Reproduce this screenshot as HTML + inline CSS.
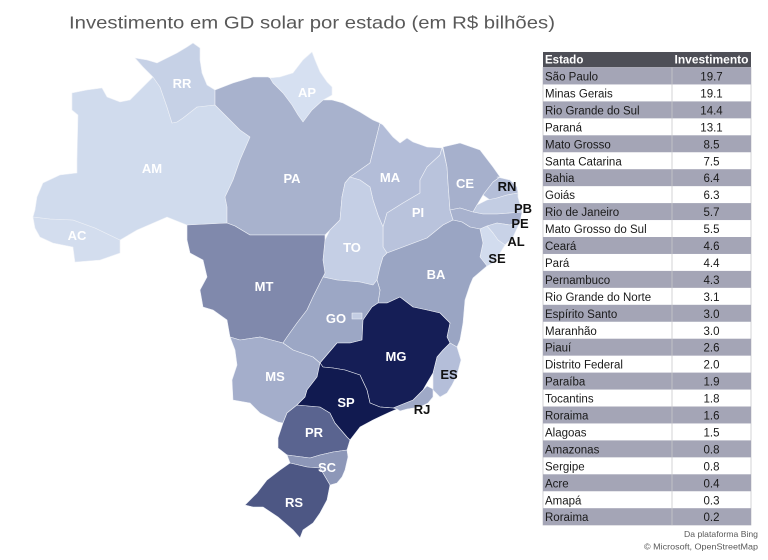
<!DOCTYPE html>
<html><head><meta charset="utf-8"><style>
html,body{margin:0;padding:0;background:#fff;}
svg{display:block;}
.lb{font-family:"Liberation Sans",Arial,sans-serif;font-weight:bold;font-size:13px;text-anchor:middle;fill:#fff;}
.lk{fill:#111;}
.tx{font-family:"Liberation Sans",Arial,sans-serif;font-size:11.5px;fill:#1a1a1a;}
.vl{text-anchor:middle;}
</style></head><body>
<svg width="768" height="560" viewBox="0 0 768 560" xmlns="http://www.w3.org/2000/svg">
<rect x="0" y="0" width="768" height="560" fill="#fff"/>
<text x="69" y="28.5" font-family="Liberation Sans, Arial, sans-serif" font-size="17.5" fill="#595959" textLength="486" lengthAdjust="spacingAndGlyphs">Investimento em GD solar por estado (em R$ bilhões)</text>

<g stroke="#eef1f7" stroke-width="0.6" stroke-linejoin="round">
<!-- AC -->
<polygon fill="#d3ddee" points="33,217 50,219 73,220 95,228 120,240 120,253 100,260 75,262 73,247 53,243 40,237 35,228"/>
<!-- AM -->
<polygon fill="#d0dbed" points="72,93 87,90 102,88 107,97 120,102 130,100 143,87 153,77 160,87 167,107 172,123 177,122 183,118 197,107 215,105 217,107 227,117 240,130 250,137 240,160 233,180 225,197 227,207 227,223 187,225 167,217 137,230 120,240 95,228 73,220 50,219 33,217 35,210 37,197 43,183 60,175 77,173 77,160 78,115 72,110"/>
<!-- RR -->
<polygon fill="#c6d1e6" points="135,58 147,60 157,63 167,58 177,53 187,47 193,43 200,48 200,60 202,73 207,85 215,90 215,105 197,107 183,118 177,122 172,123 167,107 160,87 153,77 143,67"/>
<!-- AP -->
<polygon fill="#d6e0f1" points="270,78 280,77 293,73 303,60 312,52 315,60 320,72 327,82 332,87 332,95 323,100 312,110 303,122 298,115 292,105 283,93 273,83"/>
<!-- PA -->
<polygon fill="#a8b2cd" points="215,90 233,83 253,77 268,77 270,78 273,83 283,93 292,105 298,115 303,122 312,110 323,100 332,100 343,103 360,112 373,120 380,123 375,143 370,163 350,177 345,183 342,197 340,220 330,230 325,235 250,235 235,226 227,223 227,207 225,197 233,180 240,160 250,137 240,130 227,117 217,107 215,105"/>
<!-- MA -->
<polygon fill="#b3bdd8" points="380,123 383,125 393,137 400,143 407,138 413,142 427,147 442,148 440,155 427,167 420,180 420,193 403,203 387,213 383,227 378,215 373,200 370,187 360,180 350,177 370,163 375,143"/>
<!-- PI -->
<polygon fill="#b9c3dc" points="442,148 443,150 447,167 448,183 450,210 453,220 443,225 427,238 403,247 387,253 383,247 383,227 387,213 403,203 420,193 420,180 427,167 440,155"/>
<!-- CE -->
<polygon fill="#a6b0cc" points="443,147 460,143 480,150 493,167 500,177 493,182 483,195 477,205 473,212 460,208 450,210 448,183 447,167"/>
<!-- RN -->
<polygon fill="#b4bed8" points="497,177 510,180 517,187 518,193 507,195 497,198 490,200 483,195 493,182 500,177"/>
<!-- PB -->
<polygon fill="#c3cde3" points="477,205 487,200 497,198 507,195 518,193 518,197 522,212 510,213 497,214 483,214 473,212"/>
<!-- PE -->
<polygon fill="#a8b2ce" points="450,210 460,208 473,212 483,214 497,214 510,213 522,212 520,222 510,225 497,223 487,226 480,229 470,227 462,222 453,220"/>
<!-- AL -->
<polygon fill="#c8d2e7" points="487,226 497,223 510,225 520,222 513,237 505,245 498,240 493,233"/>
<!-- SE -->
<polygon fill="#d2dcee" points="480,229 487,226 493,233 498,240 505,245 500,253 493,263 487,266 480,257 483,243"/>
<!-- TO -->
<polygon fill="#c5cfe5" points="350,177 360,180 370,187 373,200 378,215 383,227 383,247 387,253 383,257 380,267 377,280 373,285 360,282 337,280 323,277 325,273 323,260 325,240 330,230 340,220 342,197 345,183"/>
<!-- BA -->
<polygon fill="#9aa5c3" points="387,253 403,247 427,238 443,225 453,220 462,222 470,227 480,229 483,243 480,257 487,266 480,272 473,278 470,285 465,300 463,323 460,340 457,347 450,343 447,337 450,323 440,313 427,310 413,307 400,297 387,303 378,303 380,290 377,280 380,267 383,257"/>
<!-- MT -->
<polygon fill="#8089ac" points="187,225 227,223 235,226 250,235 325,235 325,240 323,260 325,273 323,277 313,297 307,310 297,323 287,337 283,343 260,337 240,340 230,337 227,320 213,310 203,307 200,290 207,277 203,260 190,253 187,240"/>
<!-- GO -->
<polygon fill="#9ca7c5" points="323,277 337,280 360,282 373,285 377,280 380,290 378,303 372,307 363,320 362,340 350,343 337,343 320,363 313,357 293,350 283,343 287,337 297,323 307,310 313,297"/>
<!-- DF -->
<polygon fill="#c3cde3" points="352,313 362,313 362,319 352,319"/>
<!-- MS -->
<polygon fill="#a4aecb" points="230,337 240,340 260,337 283,343 293,350 313,357 320,363 323,367 317,377 307,390 305,397 297,405 287,413 283,423 278,422 260,413 250,403 233,400 232,380 237,365 235,350"/>
<!-- PR -->
<polygon fill="#5a6490" points="297,405 320,407 330,413 335,423 347,437 350,440 347,450 333,452 320,455 310,458 287,455 278,448 278,438 283,423 287,413"/>
<!-- SC -->
<polygon fill="#8d97b8" points="287,455 310,458 320,455 333,452 347,450 348,457 345,470 342,477 337,483 330,485 320,468 307,467 290,463"/>
<!-- RS -->
<polygon fill="#4d5784" points="290,463 307,467 320,468 330,485 327,500 320,513 313,523 303,530 300,538 293,530 278,517 263,507 253,507 245,505 257,493 267,480 280,470"/>
<!-- RJ -->
<polygon fill="#9fa9c7" points="393,408 413,400 423,390 427,386 433,389 433,397 428,403 420,407 407,409 400,411 397,409"/>
<!-- ES -->
<polygon fill="#b4bed9" points="443,350 450,343 457,347 461,360 457,375 452,385 447,393 440,397 433,390 433,373 437,357"/>
<!-- MG -->
<polygon fill="#151e56" points="372,307 378,303 387,303 400,297 413,307 427,310 440,313 450,323 447,337 450,343 443,350 437,357 433,373 427,383 423,390 413,400 393,408 380,407 370,403 367,390 360,375 345,370 333,368 323,367 320,363 337,343 350,343 362,340 363,320"/>
<!-- SP -->
<polygon fill="#111a50" points="320,363 323,367 333,368 345,370 360,375 367,390 370,403 380,407 393,408 397,409 390,412 373,420 360,427 350,440 347,437 335,423 330,413 320,407 297,405 305,397 307,390 317,377"/>
</g>

<g>
<text class="lb" x="182" y="88">RR</text>
<text class="lb" x="152" y="173">AM</text>
<text class="lb" x="77" y="240">AC</text>
<text class="lb" x="307" y="97">AP</text>
<text class="lb" x="292" y="183">PA</text>
<text class="lb" x="390" y="182">MA</text>
<text class="lb" x="465" y="188">CE</text>
<text class="lb" x="418" y="217">PI</text>
<text class="lb" x="352" y="252">TO</text>
<text class="lb" x="436" y="279">BA</text>
<text class="lb" x="264" y="291">MT</text>
<text class="lb" x="336" y="323">GO</text>
<text class="lb" x="396" y="361">MG</text>
<text class="lb" x="275" y="381">MS</text>
<text class="lb" x="346" y="407">SP</text>
<text class="lb" x="314" y="437">PR</text>
<text class="lb" x="327" y="472">SC</text>
<text class="lb" x="294" y="507">RS</text>
<text class="lb lk" x="507" y="191">RN</text>
<text class="lb lk" x="523" y="213">PB</text>
<text class="lb lk" x="520" y="228">PE</text>
<text class="lb lk" x="516" y="246">AL</text>
<text class="lb lk" x="497" y="263">SE</text>
<text class="lb lk" x="449" y="379">ES</text>
<text class="lb lk" x="422" y="414">RJ</text>
</g>

<!-- Table -->
<g>
<rect x="543" y="52" width="208" height="15.5" fill="#4e4f57"/>
<text x="545" y="63.5" font-family="Liberation Sans, Arial, sans-serif" font-size="11.5" font-weight="bold" fill="#fff">Estado</text>
<text x="711.5" y="63.5" font-family="Liberation Sans, Arial, sans-serif" font-size="11.5" font-weight="bold" fill="#fff" text-anchor="middle" textLength="74" lengthAdjust="spacingAndGlyphs">Investimento</text>

<g id="rows">
<rect x="543" y="67.5" width="208" height="457.5" fill="#fff" stroke="#c8c8cc" stroke-width="0.8"/>
<rect x="543" y="67.50" width="208" height="16.95" fill="#a4a5b6"/>
<rect x="543" y="101.40" width="208" height="16.95" fill="#a4a5b6"/>
<rect x="543" y="135.30" width="208" height="16.95" fill="#a4a5b6"/>
<rect x="543" y="169.20" width="208" height="16.95" fill="#a4a5b6"/>
<rect x="543" y="203.10" width="208" height="16.95" fill="#a4a5b6"/>
<rect x="543" y="237.00" width="208" height="16.95" fill="#a4a5b6"/>
<rect x="543" y="270.90" width="208" height="16.95" fill="#a4a5b6"/>
<rect x="543" y="304.80" width="208" height="16.95" fill="#a4a5b6"/>
<rect x="543" y="338.70" width="208" height="16.95" fill="#a4a5b6"/>
<rect x="543" y="372.60" width="208" height="16.95" fill="#a4a5b6"/>
<rect x="543" y="406.50" width="208" height="16.95" fill="#a4a5b6"/>
<rect x="543" y="440.40" width="208" height="16.95" fill="#a4a5b6"/>
<rect x="543" y="474.30" width="208" height="16.95" fill="#a4a5b6"/>
<rect x="543" y="508.20" width="208" height="16.95" fill="#a4a5b6"/>
<line x1="672" y1="67.5" x2="672" y2="525" stroke="#c8c8cc" stroke-width="0.8"/>
</g>

<g class="tx">
<text x="545" y="80.5">São Paulo</text><text class="vl" x="711.5" y="80.5">19.7</text>
<text x="545" y="97.45">Minas Gerais</text><text class="vl" x="711.5" y="97.45">19.1</text>
<text x="545" y="114.4">Rio Grande do Sul</text><text class="vl" x="711.5" y="114.4">14.4</text>
<text x="545" y="131.35">Paraná</text><text class="vl" x="711.5" y="131.35">13.1</text>
<text x="545" y="148.3">Mato Grosso</text><text class="vl" x="711.5" y="148.3">8.5</text>
<text x="545" y="165.25">Santa Catarina</text><text class="vl" x="711.5" y="165.25">7.5</text>
<text x="545" y="182.2">Bahia</text><text class="vl" x="711.5" y="182.2">6.4</text>
<text x="545" y="199.15">Goiás</text><text class="vl" x="711.5" y="199.15">6.3</text>
<text x="545" y="216.1">Rio de Janeiro</text><text class="vl" x="711.5" y="216.1">5.7</text>
<text x="545" y="233.05">Mato Grosso do Sul</text><text class="vl" x="711.5" y="233.05">5.5</text>
<text x="545" y="250.0">Ceará</text><text class="vl" x="711.5" y="250.0">4.6</text>
<text x="545" y="266.95">Pará</text><text class="vl" x="711.5" y="266.95">4.4</text>
<text x="545" y="283.9">Pernambuco</text><text class="vl" x="711.5" y="283.9">4.3</text>
<text x="545" y="300.85">Rio Grande do Norte</text><text class="vl" x="711.5" y="300.85">3.1</text>
<text x="545" y="317.8">Espírito Santo</text><text class="vl" x="711.5" y="317.8">3.0</text>
<text x="545" y="334.75">Maranhão</text><text class="vl" x="711.5" y="334.75">3.0</text>
<text x="545" y="351.7">Piauí</text><text class="vl" x="711.5" y="351.7">2.6</text>
<text x="545" y="368.65">Distrito Federal</text><text class="vl" x="711.5" y="368.65">2.0</text>
<text x="545" y="385.6">Paraíba</text><text class="vl" x="711.5" y="385.6">1.9</text>
<text x="545" y="402.55">Tocantins</text><text class="vl" x="711.5" y="402.55">1.8</text>
<text x="545" y="419.5">Roraima</text><text class="vl" x="711.5" y="419.5">1.6</text>
<text x="545" y="436.45">Alagoas</text><text class="vl" x="711.5" y="436.45">1.5</text>
<text x="545" y="453.4">Amazonas</text><text class="vl" x="711.5" y="453.4">0.8</text>
<text x="545" y="470.35">Sergipe</text><text class="vl" x="711.5" y="470.35">0.8</text>
<text x="545" y="487.3">Acre</text><text class="vl" x="711.5" y="487.3">0.4</text>
<text x="545" y="504.25">Amapá</text><text class="vl" x="711.5" y="504.25">0.3</text>
<text x="545" y="521.2">Roraima</text><text class="vl" x="711.5" y="521.2">0.2</text>
</g>
</g>

<text x="758" y="537" font-family="Liberation Sans, Arial, sans-serif" font-size="8.5" fill="#595959" text-anchor="end" textLength="74" lengthAdjust="spacingAndGlyphs">Da plataforma Bing</text>
<text x="758" y="549.5" font-family="Liberation Sans, Arial, sans-serif" font-size="8.5" fill="#595959" text-anchor="end" textLength="114" lengthAdjust="spacingAndGlyphs">© Microsoft, OpenStreetMap</text>
</svg>
</body></html>
